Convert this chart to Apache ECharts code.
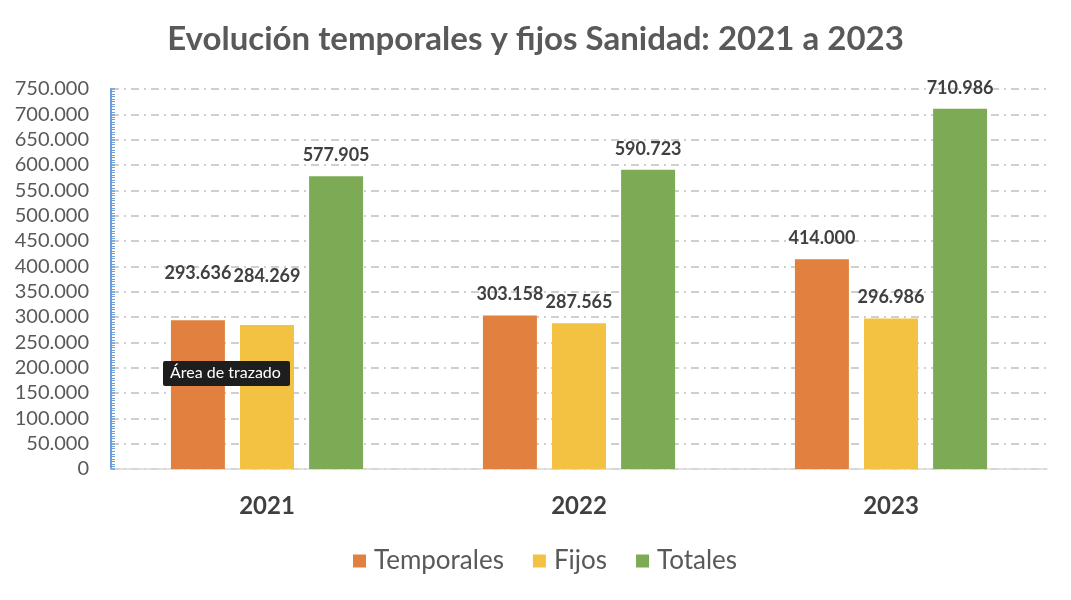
<!DOCTYPE html>
<html><head><meta charset="utf-8">
<script src="https://cdn.jsdelivr.net/npm/echarts@6/dist/echarts.min.js"></script>
<style>html,body{margin:0;padding:0;background:#fff}#c{width:1071px;height:600px}</style>
</head><body><div id="c"></div>
<script>
var categories = ['2021', '2022', '2023'];
var temporales = [293636, 303158, 414000];
var fijos = [284269, 287565, 296986];
var totales = [577905, 590723, 710986];
var seriesNames = ['Temporales', 'Fijos', 'Totales'];
var colors = ['#E1803F', '#F4C242', '#7DAB55'];

function fmt(v) {
  return String(Math.round(v)).replace(/\B(?=(\d{3})+(?!\d))/g, '.');
}
var font = 'Lato, "Open Sans", sans-serif';
function mk(arr, idx) {
  return arr.map(function (v, i) {
    var d = { value: v };
    if (i === 0) d.label = { offset: [0, idx === 0 ? -26 : -28] };
    return d;
  });
}
var chart = echarts.init(document.getElementById('c'));
var labelStyle = {
  show: true, position: 'top', distance: 12,
  formatter: function (p) { return fmt(p.value); },
  fontFamily: font, fontWeight: 'bold', fontSize: 18, color: '#404040'
};
chart.setOption({
  animation: false,
  color: colors,
  title: {
    text: 'Evolución temporales y fijos Sanidad: 2021 a 2023',
    left: 'center', top: 18,
    textStyle: { fontFamily: font, fontWeight: 'bold', fontSize: 33, color: '#595959' }
  },
  legend: {
    bottom: 21, left: 348, itemWidth: 13, itemHeight: 13, itemGap: 29,
    icon: 'rect',
    textStyle: { fontFamily: font, fontSize: 26, color: '#595959', padding: [0, 0, 0, 3] },
    data: seriesNames
  },
  grid: { left: 111, right: 24, top: 89, bottom: 131, containLabel: false },
  xAxis: {
    type: 'category', data: categories,
    axisLine: { lineStyle: { color: '#D9D9D9', width: 1.5 } },
    axisTick: { show: false },
    axisLabel: { fontFamily: font, fontWeight: 'bold', fontSize: 24, color: '#404040', margin: 25 }
  },
  yAxis: {
    type: 'value', min: 0, max: 750000, interval: 50000,
    axisLine: { show: true, lineStyle: { color: '#6C9FDA', width: 2 } },
    axisTick: { show: true, inside: true, length: 4, lineStyle: { color: '#6C9FDA', width: 1.5 } },
    minorTick: { show: true, splitNumber: 10, length: 4, lineStyle: { color: '#6C9FDA', width: 1 } },
    splitLine: { show: true, lineStyle: { color: '#C0C0C0', width: 1.5, type: [8, 5, 2, 5] } },
    axisLabel: {
      fontFamily: font, fontSize: 20, color: '#595959', margin: 22,
      formatter: function (v) { return fmt(v); }
    }
  },
  series: [
    { name: seriesNames[0], type: 'bar', data: mk(temporales, 0), barWidth: '17.3%', barGap: '28%', label: labelStyle },
    { name: seriesNames[1], type: 'bar', data: mk(fijos, 1), barWidth: '17.3%', barGap: '28%', label: labelStyle },
    { name: seriesNames[2], type: 'bar', data: totales, barWidth: '17.3%', barGap: '28%', label: labelStyle }
  ],
  graphic: [{
    type: 'group', left: 163, top: 361,
    children: [
      { type: 'rect', shape: { x: 0, y: 0, width: 127, height: 25, r: 2 }, style: { fill: '#1E1E1E' }, z: 100 },
      { type: 'text', x: 7, y: 4, style: { text: 'Área de trazado', fill: '#FFFFFF', font: '16px ' + font }, z: 101 }
    ]
  }]
});
</script></body></html>
